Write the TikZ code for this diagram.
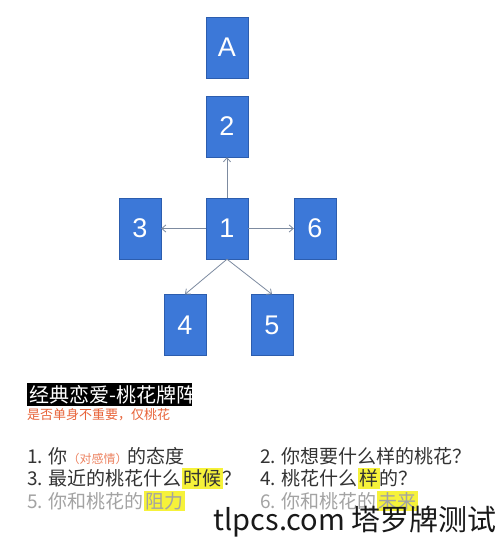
\documentclass[tikz,border=0pt]{standalone}
\usepackage{fontspec}
\newfontfamily\cjk{Noto Sans CJK SC}
\newfontfamily\cardfont{Liberation Sans}
\usetikzlibrary{arrows.meta}
\definecolor{cardblue}{HTML}{3C78D8}
\definecolor{cardedge}{HTML}{2C5DAE}
\definecolor{linkgray}{HTML}{7D8BA0}
\definecolor{textdark}{HTML}{333333}
\definecolor{textpale}{HTML}{A3A3A3}
\definecolor{hintred}{HTML}{E8643A}
\definecolor{hlyellow}{HTML}{F6F23A}
\newcommand{\hlt}[1]{{\setlength{\fboxsep}{1.5pt}\colorbox{hlyellow}{#1}}}
\begin{document}
\begin{tikzpicture}[x=1pt, y=-1pt, >={Straight Barb[length=4pt,width=7pt]},
  card/.style={draw=cardedge, fill=cardblue, minimum width=42pt, minimum height=61pt, inner sep=0pt,
    text=white, font=\cardfont\fontsize{27}{27}\selectfont},
  link/.style={->, draw=linkgray, line width=0.8pt},
  line/.style={anchor=base west, inner sep=0pt, text=textdark, font=\cjk\fontsize{19}{22}\selectfont}]
\useasboundingbox (0,0) rectangle (500,546);
\fill[white] (0,0) rectangle (500,546);
% the cards
\node[card] (cA) at (227,47.5){A};
\node[card] (c2) at (227,126.5){2};
\node[card] (c1) at (227,228.5){1};
\node[card] (c3) at (140,228.5){3};
\node[card] (c6) at (315,228.5){6};
\node[card] (c4) at (185,325){4};
\node[card] (c5) at (272,325){5};
\draw[link] (c1.north)--(c2.south);
\draw[link] (c1.west)--(c3.east);
\draw[link] (c1.east)--(c6.west);
\draw[link] (c1.south)--(c4.north);
\draw[link] (c1.south)--(c5.north);
% title
\node[anchor=north west, fill=black, text=white, inner xsep=2pt, inner ysep=0pt, minimum height=23pt,
  font=\cjk\fontsize{20}{20}\selectfont] (title) at (27,383){\makebox[161pt][l]{经典恋爱-桃花牌阵}};
\node[anchor=base west, inner sep=0pt, text=hintred, font=\cjk\fontsize{13}{13}\selectfont] (hint) at (27,419.5){是否单身不重要，仅桃花};
% questions
\node[line] (q1) at (27,463){1. 你{\color{hintred!80}\fontsize{12}{12}\selectfont（对感情）}的态度};
\node[line] (q3) at (27,485.5){3. 最近的桃花什么\hlt{时候}？};
\node[line, text=textpale] (q5) at (27,508){5. 你和桃花的\hlt{阻力}};
\node[line] (q2) at (260,463){2. 你想要什么样的桃花？};
\node[line] (q4) at (260,485.5){4. 桃花什么\hlt{样}的？};
\node[line, text=textpale] (q6) at (260,508){6. 你和桃花的\hlt{未来}};
\node[anchor=base east, inner sep=0pt, text=black!90, font=\cjk\fontsize{29}{30}\selectfont] (mark) at (497,530){tlpcs.com 塔罗牌测试};
\end{tikzpicture}
\end{document}
